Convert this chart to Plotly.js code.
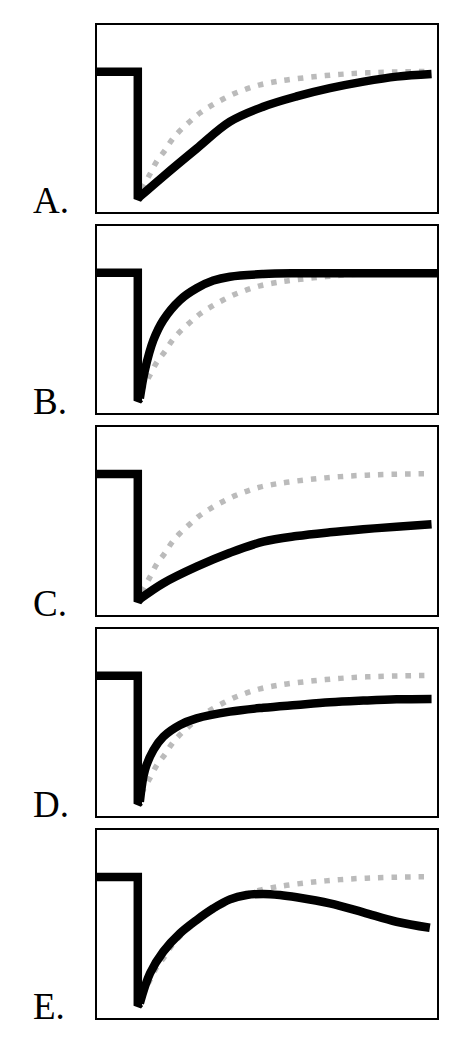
<!DOCTYPE html>
<html>
<head>
<meta charset="utf-8">
<script src="https://cdn.plot.ly/plotly-3.0.1.min.js"></script>
<style>
html,body{margin:0;padding:0;background:#fff;}
#chart{width:464px;height:1056px;}
</style>
</head>
<body>
<div id="chart"></div>
<script>
// ---- data (time on x, response on y) ----
const panelLabels = ["A.", "B.", "C.", "D.", "E."];

// step: baseline then sudden drop
const stepX = [0, 1.2, 1.2, 1.26];
const stepA = [7.5, 7.5, 0.7, 0.82];
const stepB = [7.5, 7.5, 0.65, 0.78];
const stepC = [7.5, 7.5, 0.7, 0.85];
const stepD = [7.5, 7.5, 0.65, 0.76];
const stepE = [7.5, 7.5, 0.65, 0.78];

// normal recovery (gray dotted), same in every panel
const normalX = [1.3, 1.56, 1.75, 2.0, 2.2, 2.44, 2.74, 3.03, 3.37, 3.71, 4.06, 4.4, 4.79, 5.19, 5.58, 6.36, 7.15, 7.93, 8.8, 9.85];
const normalY = [1.2, 2.03, 2.69, 3.3, 3.85, 4.35, 4.85, 5.3, 5.7, 6.04, 6.35, 6.58, 6.8, 6.95, 7.06, 7.23, 7.36, 7.44, 7.49, 7.52];

// observed recovery (black)
const recAX = [1.26, 1.94, 2.93, 3.91, 4.89, 5.87, 6.85, 7.84, 8.82, 9.84];
const recAY = [0.82, 1.89, 3.39, 4.83, 5.63, 6.18, 6.62, 6.97, 7.24, 7.38];

const recBX = [1.26, 1.41, 1.66, 1.95, 2.44, 2.93, 3.42, 3.91, 4.89, 5.87, 10];
const recBY = [0.78, 2.30, 3.90, 4.97, 6.04, 6.67, 7.08, 7.29, 7.43, 7.47, 7.47];

const recCX = [1.26, 1.95, 2.93, 3.91, 4.89, 5.87, 6.85, 7.83, 8.81, 9.84];
const recCY = [0.85, 1.69, 2.57, 3.31, 3.90, 4.20, 4.40, 4.56, 4.70, 4.83];

const recDX = [1.26, 1.41, 1.66, 1.95, 2.44, 2.93, 3.91, 4.89, 5.87, 6.85, 7.83, 8.81, 9.84];
const recDY = [0.76, 2.46, 3.53, 4.24, 4.87, 5.22, 5.58, 5.79, 5.94, 6.08, 6.17, 6.24, 6.26];

const recEX = [1.26, 1.56, 1.95, 2.44, 2.93, 3.42, 3.91, 4.4, 4.89, 5.38, 5.87, 6.85, 7.83, 8.81, 9.79];
const recEY = [0.78, 2.38, 3.53, 4.50, 5.21, 5.83, 6.31, 6.54, 6.60, 6.54, 6.42, 6.10, 5.62, 5.12, 4.80];

const steps = [stepA, stepB, stepC, stepD, stepE];
const recX = [recAX, recBX, recCX, recDX, recEX];
const recY = [recAY, recBY, recCY, recDY, recEY];

// ---- layout geometry ----
const W = 464, H = 1056;
const boxLeft = 97, boxRight = 437;
const boxTops = [25, 226, 427, 629, 830];
const boxBottoms = [212, 413, 615, 816, 1018];

const traces = [];
const layout = {
  width: W, height: H,
  margin: {l: 0, r: 0, t: 0, b: 0, pad: 0},
  paper_bgcolor: "#fff", plot_bgcolor: "#fff",
  showlegend: false,
  annotations: []
};

for (let i = 0; i < 5; i++) {
  const n = i === 0 ? "" : String(i + 1);
  const xa = "x" + n, ya = "y" + n;
  traces.push({
    x: normalX, y: normalY, xaxis: xa, yaxis: ya, type: "scatter", mode: "lines",
    line: {color: "#bbbbbb", width: 5.5, dash: "5.5px,8px", shape: "spline", smoothing: 1},
    hoverinfo: "skip"
  });
  traces.push({
    x: stepX, y: steps[i], xaxis: xa, yaxis: ya, type: "scatter", mode: "lines",
    line: {color: "#000", width: 8.5, shape: "linear"},
    hoverinfo: "skip"
  });
  traces.push({
    x: recX[i], y: recY[i], xaxis: xa, yaxis: ya, type: "scatter", mode: "lines",
    line: {color: "#000", width: 8.5, shape: "spline", smoothing: 1},
    hoverinfo: "skip"
  });
  const common = {
    showline: true, mirror: true, linecolor: "#000", linewidth: 2,
    showgrid: false, zeroline: false, showticklabels: false, ticks: "",
    fixedrange: true
  };
  layout["xaxis" + n] = Object.assign({}, common, {
    range: [0, 10], domain: [boxLeft / W, boxRight / W], anchor: ya
  });
  layout["yaxis" + n] = Object.assign({}, common, {
    range: [0, 10], domain: [(H - boxBottoms[i]) / H, (H - boxTops[i]) / H], anchor: xa
  });
  layout.annotations.push({
    text: panelLabels[i], xref: "paper", yref: "paper",
    x: 31 / W, y: (H - boxBottoms[i]) / H, xanchor: "left", yanchor: "bottom",
    yshift: -11, showarrow: false,
    font: {family: "Liberation Serif, Times New Roman, serif", size: 37, color: "#000"}
  });
}

Plotly.newPlot("chart", traces, layout, {displayModeBar: false, staticPlot: true});
</script>
</body>
</html>
